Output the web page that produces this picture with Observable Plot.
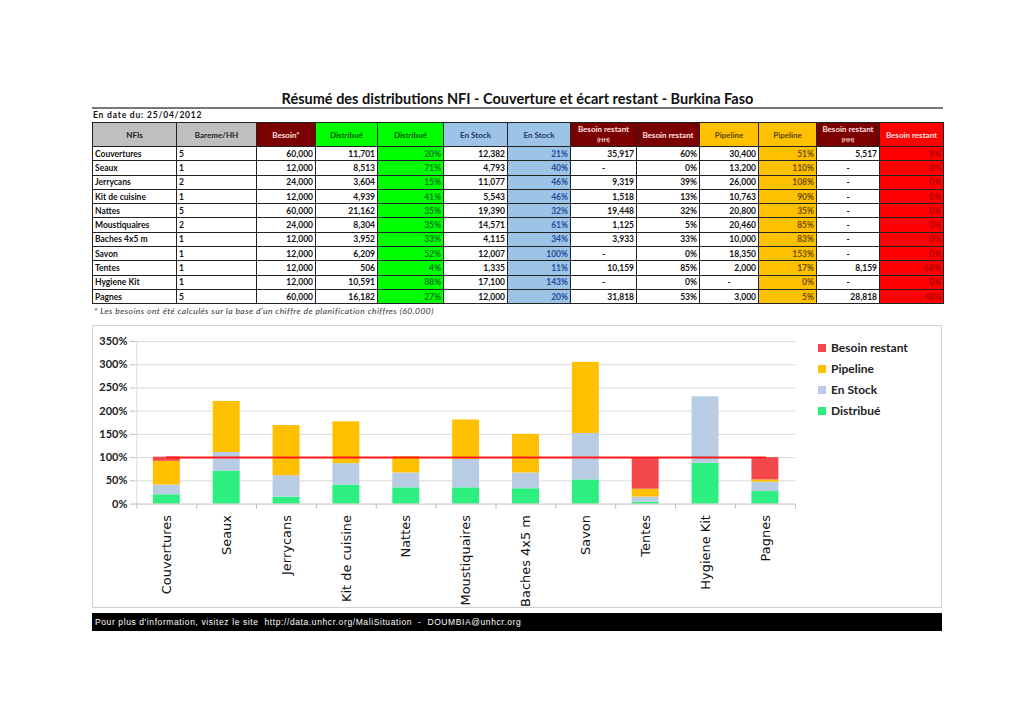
<!DOCTYPE html>
<html><head><meta charset="utf-8">
<script src="https://cdn.jsdelivr.net/npm/d3@7"></script>
<script src="https://cdn.jsdelivr.net/npm/@observablehq/plot@0.6"></script>
<style>
body{margin:0;background:#fff;width:1024px;height:724px;position:relative;font-family:Lato,sans-serif;overflow:hidden}
#title{position:absolute;left:92px;width:851px;top:90px;text-align:center;font:bold 14.5px Lato;color:#111;line-height:18px}
#hr{position:absolute;left:92px;width:851px;top:107px;height:2px;background:#777}
#date{position:absolute;left:93px;top:110px;font:bold 8.5px Lato;color:#111;letter-spacing:0.8px}
#tbl{position:absolute;left:92px;top:122px;border-collapse:collapse;table-layout:fixed;width:851px;font:bold 8.5px Lato;color:#111}
#tbl td,#tbl th{border:1px solid #222;padding:0 2px;height:13.3px;line-height:12px;overflow:hidden;white-space:nowrap}
#tbl th{height:23px;font-weight:bold;font-size:8px;text-align:center;line-height:10px}
#tbl td.r{text-align:right}#tbl td.c{text-align:center}
#note{position:absolute;left:94px;top:306px;font:italic 8.5px Lato;color:#333;letter-spacing:0.45px}
#chartbox{position:absolute;left:92px;top:325px;width:850px;height:283px;box-sizing:border-box;border:1px solid #d0d0d0}
#chartbox svg{position:absolute;left:-1px;top:-1px}
#legend{position:absolute;left:818px;top:337px;font:bold 12px Lato;color:#222}
#legend div{height:21px;line-height:14px;display:flex;align-items:center}
#legend span.sw{display:inline-block;width:8px;height:8px;margin-right:5px}
#footer{position:absolute;left:92px;top:613px;width:850px;height:18px;background:#000;color:#fff;font:8.5px "Liberation Sans",sans-serif;line-height:18px;box-sizing:border-box;padding-left:3px;white-space:pre;letter-spacing:0.6px}
</style></head>
<body>
<div id="title">Résumé des distributions NFI - Couverture et écart restant - Burkina Faso</div>
<div id="hr"></div>
<div id="date">En date du: 25/04/2012</div>
<table id="tbl"></table>
<div id="note">* Les besoins ont été calculés sur la base d'un chiffre de planification chiffres (60.000)</div>
<div id="chartbox"></div>
<div id="legend"></div>
<div id="footer">Pour plus d'information, visitez le site  http://data.unhcr.org/MaliSituation  -  DOUMBIA@unhcr.org</div>
<script>
// ---- data ----
const categories = ["Couvertures","Seaux","Jerrycans","Kit de cuisine","Nattes","Moustiquaires","Baches 4x5 m","Savon","Tentes","Hygiene Kit","Pagnes"];
const bareme = [5,1,2,1,5,2,1,1,1,1,5];
const besoin = [60000,12000,24000,12000,60000,24000,12000,12000,12000,12000,60000];
const distribue = [11701,8513,3604,4939,21162,8304,3952,6209,506,10591,16182];
const distribuePct = [20,71,15,41,35,35,33,52,4,88,27];
const enStock = [12382,4793,11077,5543,19390,14571,4115,12007,1335,17100,12000];
const enStockPct = [21,40,46,46,32,61,34,100,11,143,20];
const besoinRestantHH = [35917,0,9319,1518,19448,1125,3933,0,10159,0,31818];
const besoinRestantPct = [60,0,39,13,32,5,33,0,85,0,53];
const pipeline = [30400,13200,26000,10763,20800,20460,10000,18350,2000,0,3000];
const pipelinePct = [51,110,108,90,35,85,83,153,17,0,5];
const besoinRestant2HH = [5517,0,0,0,0,0,0,0,8159,0,28818];
const besoinRestant2Pct = [9,0,0,0,0,0,0,0,68,0,48];
const headers = ["NFIs","Bareme/HH","Besoin*","Distribué","Distribué","En Stock","En Stock","Besoin restant<br><span style='font-size:6px'>(HH)</span>","Besoin restant","Pipeline","Pipeline","Besoin restant<br><span style='font-size:6px'>(HH)</span>","Besoin restant"];
const series = ["Distribué","En Stock","Pipeline","Besoin restant"];
const seriesColors = ["#2CEF7F","#B8CCE4","#FFC000","#F4484C"];
const yTicks = [0,50,100,150,200,250,300,350];

// ---- table ----
const colW = [84,80,59,62,66,64,63,66,63,59,58,63,64];
const hdrStyle = [["#BFBFBF","#222"],["#BFBFBF","#222"],["#7B0000","#FFE0E0"],["#00FF00","#0A5A0A"],["#00FF00","#0A5A0A"],["#9DC3E6","#1F3864"],["#9DC3E6","#1F3864"],["#7B0000","#FFE0E0"],["#7B0000","#FFE0E0"],["#FFC000","#5C4400"],["#FFC000","#5C4400"],["#7B0000","#FFE0E0"],["#FF0000","#FFE0E0"]];
const fmt = d3.format(",");
const num = v => v ? fmt(v) : "-";
const pct = v => v + "%";
const tbl = document.getElementById("tbl");
let html = "<colgroup>" + colW.map(w=>`<col style="width:${w}px">`).join("") + "</colgroup><tr>";
headers.forEach((h,i)=>{ html += `<th style="background:${hdrStyle[i][0]};color:${hdrStyle[i][1]}">${h}</th>`; });
html += "</tr>";
categories.forEach((c,i)=>{
  const cells = [
    [c,"",null],[bareme[i],"",null],[num(besoin[i]),"r",null],[num(distribue[i]),"r",null],
    [pct(distribuePct[i]),"r",["#00FF00","#007A1A"]],[num(enStock[i]),"r",null],[pct(enStockPct[i]),"r",["#9DC3E6","#1F4E9A"]],
    [num(besoinRestantHH[i]),besoinRestantHH[i]?"r":"c",null],[pct(besoinRestantPct[i]),"r",null],
    [num(pipeline[i]),pipeline[i]?"r":"c",null],[pct(pipelinePct[i]),"r",["#FFC000","#6B4E00"]],
    [num(besoinRestant2HH[i]),besoinRestant2HH[i]?"r":"c",null],[pct(besoinRestant2Pct[i]),"r",["#FF0000","#B00000"]]
  ];
  html += "<tr>" + cells.map(([t,cls,st])=>`<td class="${cls}"${st?` style="background:${st[0]};color:${st[1]}"`:""}>${t}</td>`).join("") + "</tr>";
});
tbl.innerHTML = html;

// ---- chart ----
const valueArrays = [distribuePct, enStockPct, pipelinePct, besoinRestant2Pct];
const rows = [];
categories.forEach((c,i)=>valueArrays.forEach((arr,j)=>rows.push({cat:c, serie:series[j], value:arr[i]})));
const plotW = 850, mL = 43, mR = 145;
const step = (plotW - mL - mR) / categories.length;
const chart = Plot.plot({
  width: plotW, height: 283, marginLeft: mL, marginRight: mR, marginTop: 16, marginBottom: 104,
  style: {fontFamily: "Lato", fontSize: "11px", color: "#222", background: "transparent", overflow: "visible"},
  x: {domain: categories, paddingInner: 0.55, paddingOuter: 0.275, label: null},
  y: {domain: [0, 350], label: null},
  color: {domain: series, range: seriesColors},
  marks: [
    Plot.gridY(yTicks.slice(1), {stroke: "#d9d9d9", strokeOpacity: 1}),
    Plot.ruleX([categories[0]], {x: d => d, dx: -step/2, y1: 0, y2: 350, stroke: "#d9d9d9"}),
    Plot.barY(rows, {x: "cat", y: "value", fill: "serie", order: series}),
    Plot.ruleY([0], {stroke: "#bfbfbf"}),
    Plot.ruleX(categories, {x: d => d, dx: -step/2, y1: 0, y2: -11, stroke: "#bfbfbf"}),
    Plot.ruleX([categories[categories.length-1]], {x: d => d, dx: step/2, y1: 0, y2: -11, stroke: "#bfbfbf"}),
    Plot.lineY(categories, {x: d => d, y: () => 100, stroke: "#FF1A1A", strokeWidth: 2}),
    Plot.axisY({ticks: yTicks, tickFormat: d => d + "%", tickSize: 5, tickPadding: 3, stroke: "#bfbfbf", fill: "#222", fontWeight: "bold", fontSize: 11, label: null}),
    Plot.axisX({tickSize: 0, tickRotate: -90, tickPadding: 11, fontSize: 13, fontFamily: "DejaVu Sans", fill: "#111", label: null})
  ]
});
document.getElementById("chartbox").appendChild(chart);

// ---- legend ----
const legend = document.getElementById("legend");
[3,2,1,0].forEach(j=>{
  const d = document.createElement("div");
  d.innerHTML = `<span class="sw" style="background:${seriesColors[j]}"></span>${series[j]}`;
  legend.appendChild(d);
});
</script>
</body></html>
